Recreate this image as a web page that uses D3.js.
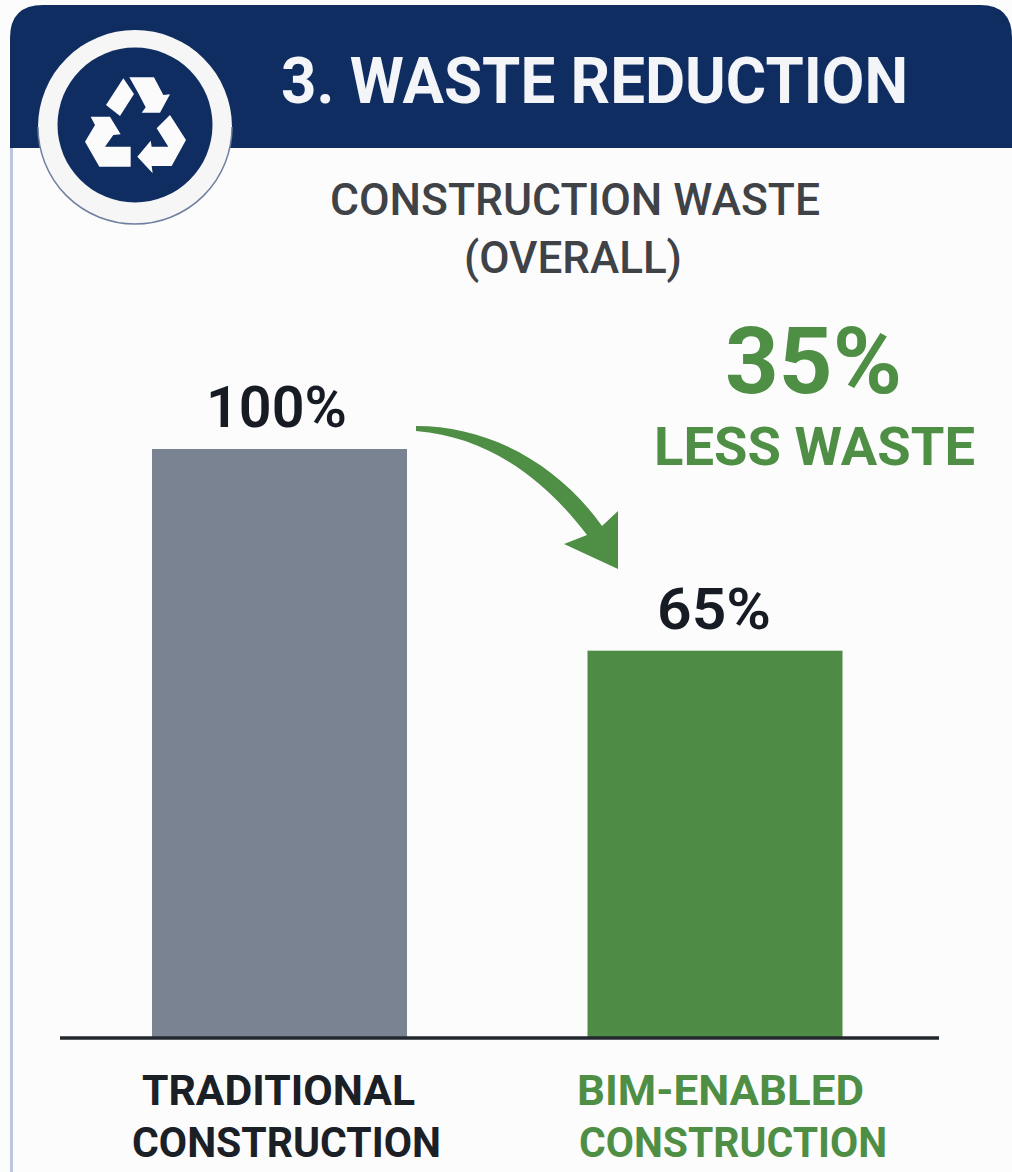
<!DOCTYPE html>
<html><head><meta charset="utf-8">
<script src="https://cdn.jsdelivr.net/npm/d3@7/dist/d3.min.js"></script>
<style>html,body{margin:0;padding:0;background:#fcfcfc}svg{display:block}text{font-family:Roboto,sans-serif}</style>
</head><body><svg id="c" width="1012" height="1172"></svg>
<script>
const categories = [["TRADITIONAL","CONSTRUCTION"],["BIM-ENABLED","CONSTRUCTION"]];
const barValues = [100, 65.7];
const barLabels = ["100%", "65%"];
const barColors = ["#7a8392", "#4e8c45"];
const labelColors = ["#1b2027", "#4e8f45"];
const titleText = "3. WASTE REDUCTION";
const subtitleLines = ["CONSTRUCTION WASTE", "(OVERALL)"];
const calloutLines = ["35%", "LESS WASTE"];

const navy = "#0f2d60", green = "#4e8f45";
const svg = d3.select("#c");
svg.append("rect").attr("width",1012).attr("height",1172).attr("fill","#fcfcfc");

// place a text between two measured x edges
function fit(s, x0, x1, base, size, weight, color){
  return svg.append("text").attr("x",x0).attr("y",base).attr("fill",color)
    .attr("font-size",size).attr("font-weight",weight)
    .attr("textLength",x1-x0).attr("lengthAdjust","spacingAndGlyphs").text(s);
}

// card
svg.append("rect").attr("x",10).attr("y",100).attr("width",3).attr("height",1072).attr("fill","#bcc6dc");
svg.append("path").attr("fill",navy)
  .attr("d","M10,148V38Q10,5 43,5H980Q1012,5 1012,38V148Z");

// badge
const badge = svg.append("g");
badge.append("circle").attr("cx",135).attr("cy",127).attr("r",97).attr("fill","#f6f6f7");
badge.append("path").attr("fill","none").attr("stroke","#6f80a0").attr("stroke-width",1.5)
  .attr("d",d3.arc()({innerRadius:97,outerRadius:97,startAngle:Math.PI*0.5,endAngle:Math.PI*1.5})).attr("transform","translate(135,127)");
badge.append("circle").attr("cx",135).attr("cy",125).attr("r",77.5).attr("fill",navy);
const recyclePieces = [
 [[370,235],[402,282],[360,348],[318,315]],
 [[388,232],[462,232],[490,285],[510,283],[480,338],[425,338],[437,322],[415,280]],
 [[272,350],[330,350],[362,403],[340,405],[315,440],[392,440],[392,500],[298,500],[255,425],[285,375]],
 [[510,345],[558,420],[515,498],[455,498],[458,520],[412,470],[452,422],[455,440],[505,440],[470,385]]
];
badge.selectAll("path.r").data(recyclePieces).join("path").attr("class","r").attr("fill","#fbfbfb")
  .attr("d",p=>d3.line().x(d=>d[0]/3).y(d=>d[1]/3)(p)+"Z");

// title
fit(titleText,281,908,103,65,700,"#f4f5f8");
fit(subtitleLines[0],330,820,215,44,500,"#3f4247");
fit(subtitleLines[1],464,682,273,44,500,"#3f4247");

// chart
const centers = d3.scalePoint().domain([0,1]).range([279.5,715]);
const y = d3.scaleLinear().domain([0,100]).range([1037,449]);
const barW = 255;
svg.selectAll("rect.bar").data(barValues).join("rect").attr("class","bar")
  .attr("x",(d,i)=>centers(i)-barW/2).attr("width",barW)
  .attr("y",d=>y(d)).attr("height",d=>y(0)-y(d)).attr("fill",(d,i)=>barColors[i]);
svg.append("line").attr("x1",60).attr("x2",939).attr("y1",1038).attr("y2",1038).attr("stroke","#23272e").attr("stroke-width",3.5);
const valEdges = [[206,347],[657,771]];
barValues.forEach((v,i)=>fit(barLabels[i],valEdges[i][0],valEdges[i][1],y(v)-22,57,600,"#171c24"));
const catEdges = [[[142,415],[132,441]],[[577,864],[579,887]]];
categories.forEach((lines,i)=>lines.forEach((l,j)=>
  fit(l,catEdges[i][j][0],catEdges[i][j][1],1105+j*52,43,700,labelColors[i])));

// callout
fit(calloutLines[0],725,902,393,92,700,green);
fit(calloutLines[1],654,975,465,54,700,green);

// arrow
svg.append("path").attr("fill",green)
  .attr("d","M416,426C485,426 555,460 602,526L618,511V569L564,544L587,535C545,480 490,437 416,431Z");
</script></body></html>
